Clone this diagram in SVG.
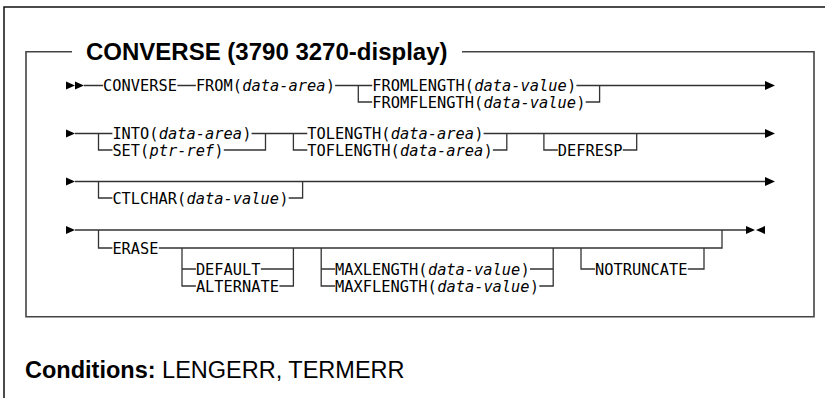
<svg xmlns="http://www.w3.org/2000/svg" width="825" height="398" viewBox="0 0 825 398">
<style>
.t{font-family:"DejaVu Sans Mono","Liberation Mono",monospace;font-size:15.5px;fill:#000}
.i{font-style:italic}
.h{font-family:"Liberation Sans",Arial,sans-serif;font-weight:bold;fill:#000}
.c{font-family:"Liberation Sans",Arial,sans-serif;fill:#000}
.ln{stroke:#333;stroke-width:1.3;fill:none}
.fr{stroke:#111;stroke-width:1.5;fill:none}
.bx{stroke:#444;stroke-width:1.6;fill:none}
.ah{fill:#000}
</style>
<rect width="825" height="398" fill="#fff"/>
<g id="frame">
<path class="fr" d="M4,398 V7 H825"/>
<path class="bx" d="M72,51.7 H26 V316.7 H814 V51.7 H462"/>
<text class="h" x="86" y="59.5" font-size="24">CONVERSE (3790 3270-display)</text>
</g>
<g id="connectors">
<path class="ln" d="M84,85.5 H103.1 M177.4,85.5 H195.9 M335.1,85.5 H372.2 M358.3,85.5 V102 H372.2 M576.4,85.5 H765 M585.7,102 H599.6 V85.5"/>
<path class="ln" d="M75,133.5 H112.4 M98.5,133.5 V150 H112.4 M251.6,133.5 H307.3 M223.8,150 H265.5 V133.5 M293.4,133.5 V150 H307.3 M483.6,133.5 H765 M492.9,150 H506.8 V133.5 M543.9,133.5 V150 H557.8 M622.8,150 H636.7 V133.5"/>
<path class="ln" d="M75,181.5 H765 M98.5,181.5 V198 H112.4 M288.7,198 H302.6 V181.5"/>
<path class="ln" d="M75,230 H746 M98.5,230 V248 H112.4 M158.8,248 H722 V230 M182,248 V286 H195.9 M182,269 H195.9 M260.9,269 H293.4 M279.4,286 H293.4 V248 M321.2,248 V286 H335.1 M321.2,269 H335.1 M530,269 H553.2 M539.3,286 H553.2 V248 M581,248 V269 H595 M687.8,269 H704 V248"/>
<polygon class="ah" points="66,81.5 75,85.5 66,89.5"/>
<polygon class="ah" points="75,81.5 84,85.5 75,89.5"/>
<polygon class="ah" points="765,81 775,85.5 765,90"/>
<polygon class="ah" points="66,129.5 75,133.5 66,137.5"/>
<polygon class="ah" points="765,129 775,133.5 765,138"/>
<polygon class="ah" points="66,177.5 75,181.5 66,185.5"/>
<polygon class="ah" points="765,177 775,181.5 765,186"/>
<polygon class="ah" points="66,226 75,230 66,234"/>
<polygon class="ah" points="746,226 755,230 746,234"/>
<polygon class="ah" points="765,226 756,230 765,234"/>
</g>
<g id="n-converse"><text class="t" x="103.1" y="91.1" textLength="73.8" lengthAdjust="spacingAndGlyphs">CONVERSE</text></g>
<g id="n-from">
<text class="t" x="195.9" y="91.1" textLength="46" lengthAdjust="spacingAndGlyphs">FROM(</text>
<text class="t i" x="242.3" y="91.1" textLength="83.1" lengthAdjust="spacingAndGlyphs">data-area</text>
<text class="t" x="325.9" y="91.1" textLength="8.9" lengthAdjust="spacingAndGlyphs">)</text>
</g>
<g id="n-fromlength">
<text class="t" x="372.2" y="91.1" textLength="101.7" lengthAdjust="spacingAndGlyphs">FROMLENGTH(</text>
<text class="t i" x="474.3" y="91.1" textLength="92.4" lengthAdjust="spacingAndGlyphs">data-value</text>
<text class="t" x="567.2" y="91.1" textLength="8.9" lengthAdjust="spacingAndGlyphs">)</text>
</g>
<g id="n-fromflength">
<text class="t" x="372.2" y="107.6" textLength="111" lengthAdjust="spacingAndGlyphs">FROMFLENGTH(</text>
<text class="t i" x="483.6" y="107.6" textLength="92.4" lengthAdjust="spacingAndGlyphs">data-value</text>
<text class="t" x="576.5" y="107.6" textLength="8.9" lengthAdjust="spacingAndGlyphs">)</text>
</g>
<g id="n-into">
<text class="t" x="112.4" y="139.1" textLength="46" lengthAdjust="spacingAndGlyphs">INTO(</text>
<text class="t i" x="158.8" y="139.1" textLength="83.1" lengthAdjust="spacingAndGlyphs">data-area</text>
<text class="t" x="242.4" y="139.1" textLength="8.9" lengthAdjust="spacingAndGlyphs">)</text>
</g>
<g id="n-set">
<text class="t" x="112.4" y="155.6" textLength="36.7" lengthAdjust="spacingAndGlyphs">SET(</text>
<text class="t i" x="149.5" y="155.6" textLength="64.6" lengthAdjust="spacingAndGlyphs">ptr-ref</text>
<text class="t" x="214.5" y="155.6" textLength="8.9" lengthAdjust="spacingAndGlyphs">)</text>
</g>
<g id="n-tolength">
<text class="t" x="307.3" y="139.1" textLength="83.1" lengthAdjust="spacingAndGlyphs">TOLENGTH(</text>
<text class="t i" x="390.8" y="139.1" textLength="83.1" lengthAdjust="spacingAndGlyphs">data-area</text>
<text class="t" x="474.4" y="139.1" textLength="8.9" lengthAdjust="spacingAndGlyphs">)</text>
</g>
<g id="n-toflength">
<text class="t" x="307.3" y="155.6" textLength="92.4" lengthAdjust="spacingAndGlyphs">TOFLENGTH(</text>
<text class="t i" x="400.1" y="155.6" textLength="83.1" lengthAdjust="spacingAndGlyphs">data-area</text>
<text class="t" x="483.7" y="155.6" textLength="8.9" lengthAdjust="spacingAndGlyphs">)</text>
</g>
<g id="n-defresp"><text class="t" x="557.8" y="155.6" textLength="64.6" lengthAdjust="spacingAndGlyphs">DEFRESP</text></g>
<g id="n-ctlchar">
<text class="t" x="112.4" y="203.6" textLength="73.8" lengthAdjust="spacingAndGlyphs">CTLCHAR(</text>
<text class="t i" x="186.6" y="203.6" textLength="92.4" lengthAdjust="spacingAndGlyphs">data-value</text>
<text class="t" x="279.5" y="203.6" textLength="8.9" lengthAdjust="spacingAndGlyphs">)</text>
</g>
<g id="n-erase"><text class="t" x="112.4" y="253.6" textLength="46" lengthAdjust="spacingAndGlyphs">ERASE</text></g>
<g id="n-default"><text class="t" x="195.9" y="274.6" textLength="64.6" lengthAdjust="spacingAndGlyphs">DEFAULT</text></g>
<g id="n-alternate"><text class="t" x="195.9" y="291.6" textLength="83.1" lengthAdjust="spacingAndGlyphs">ALTERNATE</text></g>
<g id="n-maxlength">
<text class="t" x="335.1" y="274.6" textLength="92.4" lengthAdjust="spacingAndGlyphs">MAXLENGTH(</text>
<text class="t i" x="427.9" y="274.6" textLength="92.4" lengthAdjust="spacingAndGlyphs">data-value</text>
<text class="t" x="520.8" y="274.6" textLength="8.9" lengthAdjust="spacingAndGlyphs">)</text>
</g>
<g id="n-maxflength">
<text class="t" x="335.1" y="291.6" textLength="101.7" lengthAdjust="spacingAndGlyphs">MAXFLENGTH(</text>
<text class="t i" x="437.2" y="291.6" textLength="92.4" lengthAdjust="spacingAndGlyphs">data-value</text>
<text class="t" x="530.1" y="291.6" textLength="8.9" lengthAdjust="spacingAndGlyphs">)</text>
</g>
<g id="n-notruncate"><text class="t" x="595" y="274.6" textLength="92.4" lengthAdjust="spacingAndGlyphs">NOTRUNCATE</text></g>
<g id="conditions"><text class="c" x="25" y="378" font-size="23.5"><tspan font-weight="bold">Conditions:</tspan> LENGERR, TERMERR</text></g>
</svg>
